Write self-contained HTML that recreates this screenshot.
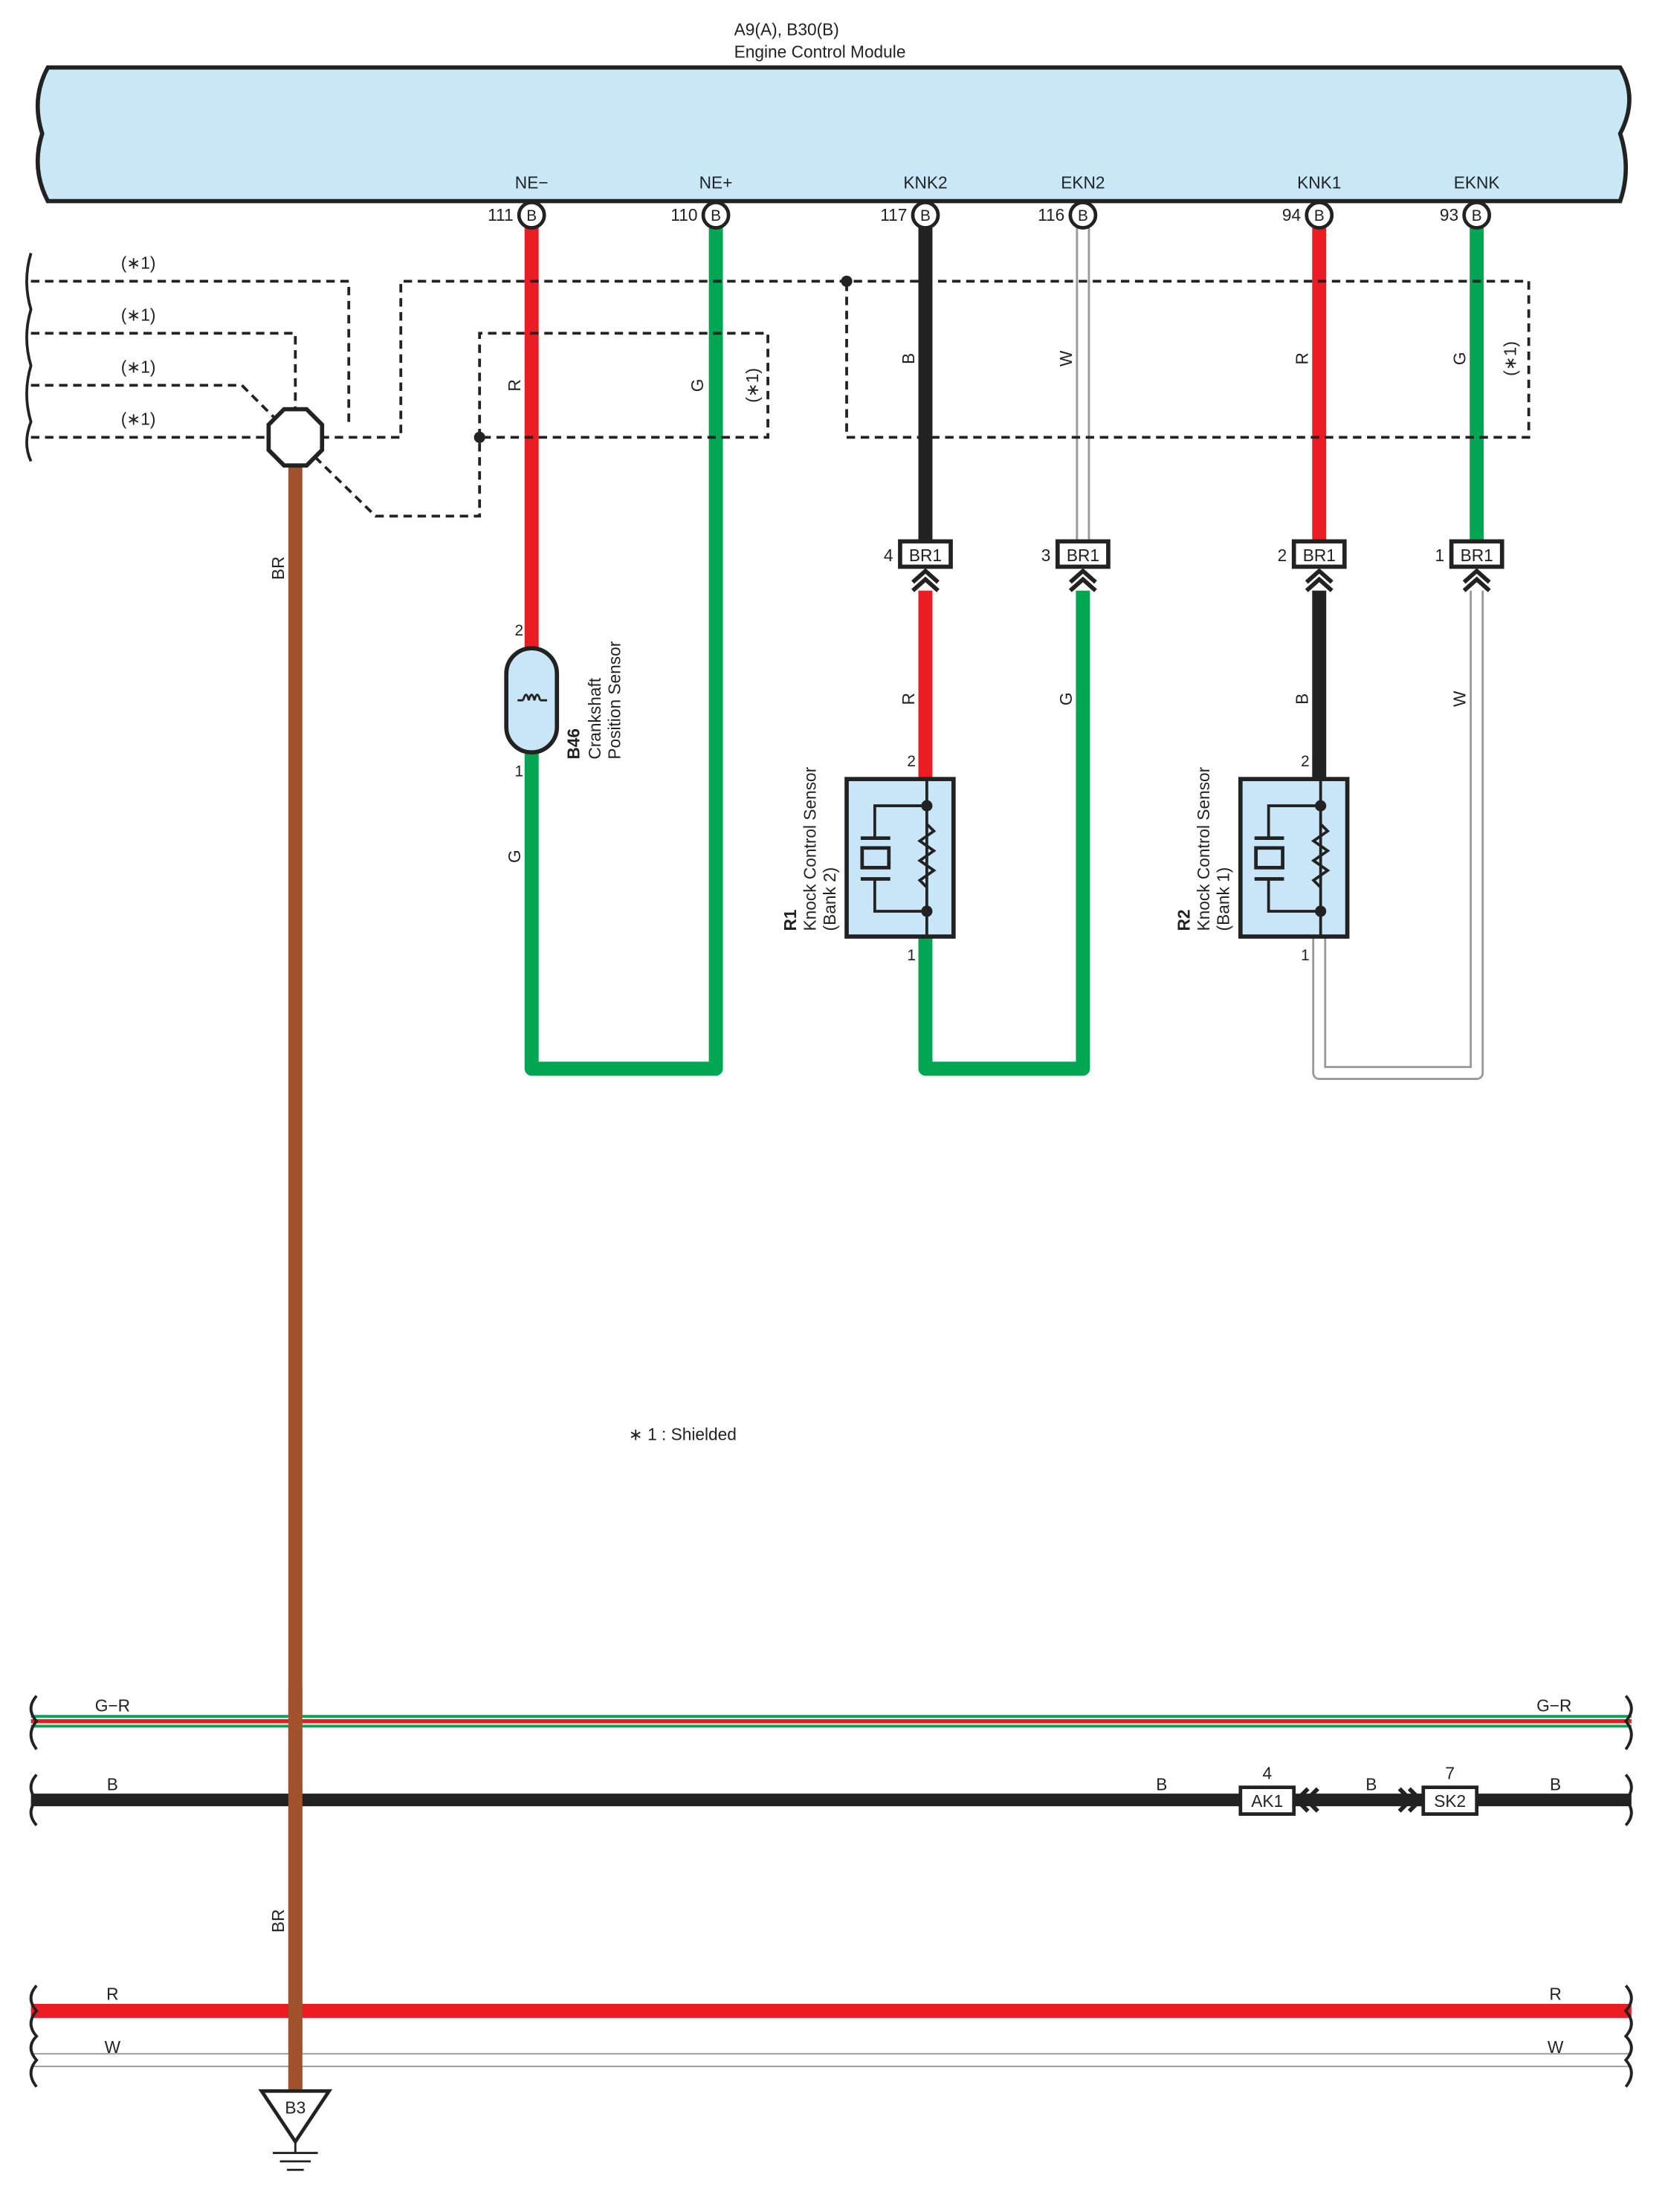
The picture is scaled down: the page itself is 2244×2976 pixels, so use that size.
<!DOCTYPE html>
<html><head><meta charset="utf-8"><style>
html,body{margin:0;padding:0;background:#fff}
svg{display:block}
text{font-family:"Liberation Sans",sans-serif;fill:#222}
</style></head><body>
<svg width="2244" height="2976" viewBox="0 0 1186 1573" preserveAspectRatio="none" xmlns="http://www.w3.org/2000/svg">
<defs>
<g id="ks">
<rect x="0" y="0" width="76" height="112" fill="#c8e6f7" stroke="#222" stroke-width="3"/>
<path d="M57 0 V112" stroke="#222" stroke-width="2" fill="none"/>
<path d="M57 19 H20 V42 M20 71 V94 H57" stroke="#222" stroke-width="2" fill="none"/>
<path d="M10 42 H31 M10 71 H31" stroke="#222" stroke-width="2.5"/>
<rect x="11" y="49" width="19" height="14" fill="none" stroke="#222" stroke-width="2.5"/>
<circle cx="57" cy="19" r="4" fill="#222"/><circle cx="57" cy="94" r="4" fill="#222"/>
<path d="M57 32 L62 37 L52 44 L62 51 L52 58 L62 65 L52 72 L57 77" stroke="#222" stroke-width="2" fill="none"/>
</g>
<g id="chev"><path d="M-9 8 L0 0 L9 8 M-9 14 L0 6 L9 14" stroke="#222" stroke-width="3" fill="none"/></g>
</defs>

<text x="522" y="25" font-size="12">A9(A), B30(B)</text>
<text x="522" y="41" font-size="12">Engine Control Module</text>
<path d="M34 48 H1152 Q1165 70 1152 95 Q1160 120 1152 143 H34 Q22 120 30 95 Q22 70 34 48 Z" fill="#c8e8f8" stroke="#222" stroke-width="3"/>

<!-- wires top -->
<g fill="none" stroke-linejoin="round">
<path d="M378 162 V462" stroke="#ec1c24" stroke-width="10"/>
<path d="M378 535 V760 H509 V162" stroke="#00a651" stroke-width="10"/>
<path d="M658 162 V385" stroke="#222" stroke-width="10"/>
<path d="M658 420 V555" stroke="#ec1c24" stroke-width="10"/>
<path d="M658 665 V760 H770 V420" stroke="#00a651" stroke-width="10"/>
<path d="M770 162 V385" stroke="#999" stroke-width="10"/><path d="M770 162 V385" stroke="#fff" stroke-width="7"/>
<path d="M938 162 V385" stroke="#ec1c24" stroke-width="10"/>
<path d="M938 420 V555" stroke="#222" stroke-width="10"/>
<path d="M938 665 V763 H1050 V420" stroke="#999" stroke-width="10"/><path d="M938 665 V763 H1050 V420" stroke="#fff" stroke-width="7"/>
<path d="M1050 162 V385" stroke="#00a651" stroke-width="10"/>
</g>

<!-- pins -->
<g font-size="12" text-anchor="middle">
<text x="378" y="134">NE−</text><text x="509" y="134">NE+</text><text x="658" y="134">KNK2</text><text x="770" y="134">EKN2</text><text x="938" y="134">KNK1</text><text x="1050" y="134">EKNK</text>
</g>
<g font-size="12" text-anchor="end">
<text x="365" y="157">111</text><text x="496" y="157">110</text><text x="645" y="157">117</text><text x="757" y="157">116</text><text x="925" y="157">94</text><text x="1037" y="157">93</text>
</g>
<g fill="#fff" stroke="#222" stroke-width="2.5">
<circle cx="378" cy="153" r="9"/><circle cx="509" cy="153" r="9"/><circle cx="658" cy="153" r="9"/><circle cx="770" cy="153" r="9"/><circle cx="938" cy="153" r="9"/><circle cx="1050" cy="153" r="9"/>
</g>
<g font-size="11" text-anchor="middle">
<text x="378" y="157">B</text><text x="509" y="157">B</text><text x="658" y="157">B</text><text x="770" y="157">B</text><text x="938" y="157">B</text><text x="1050" y="157">B</text>
</g>

<!-- shields -->
<g fill="none" stroke="#222" stroke-width="2" stroke-dasharray="6,4">
<path d="M22 200 H248 V300"/><path d="M22 237 H210 V292"/><path d="M22 274 H172 L196 298"/><path d="M22 311 H192"/>
<path d="M228 311 H285 V200 H1087 V311 H602 V200"/>
<path d="M341 311 V237 H546 V311 H341"/>
<path d="M224 325 L267 367 H341 V311"/>
</g>
<circle cx="602" cy="200" r="4" fill="#222"/><circle cx="341" cy="311" r="4" fill="#222"/>
<g font-size="12"><text x="86" y="191">(∗1)</text><text x="86" y="228">(∗1)</text><text x="86" y="265">(∗1)</text><text x="86" y="302">(∗1)</text></g>
<g font-size="12"><text transform="translate(539,274) rotate(-90)" text-anchor="middle">(∗1)</text><text transform="translate(1078,255) rotate(-90)" text-anchor="middle">(∗1)</text></g>
<!-- wavy left edge -->
<path d="M22 180 Q16 200 22 220 Q16 240 22 260 Q16 280 22 300 Q16 315 22 328" fill="none" stroke="#222" stroke-width="2"/>

<!-- brown wire -->
<path d="M210 330 V1488" stroke="#a0522d" stroke-width="10"/>
<polygon points="202,291 218,291 229,302 229,320 218,331 202,331 191,320 191,302" fill="#fff" stroke="#222" stroke-width="3"/>

<!-- wire labels -->
<g font-size="12" text-anchor="middle">
<text transform="translate(370,274) rotate(-90)">R</text>
<text transform="translate(500,274) rotate(-90)">G</text>
<text transform="translate(650,255) rotate(-90)">B</text>
<text transform="translate(762,255) rotate(-90)">W</text>
<text transform="translate(930,255) rotate(-90)">R</text>
<text transform="translate(1042,255) rotate(-90)">G</text>
<text transform="translate(650,497) rotate(-90)">R</text>
<text transform="translate(762,497) rotate(-90)">G</text>
<text transform="translate(930,497) rotate(-90)">B</text>
<text transform="translate(1042,497) rotate(-90)">W</text>
<text transform="translate(370,609) rotate(-90)">G</text>
<text transform="translate(202,404) rotate(-90)">BR</text>
<text transform="translate(202,1366) rotate(-90)">BR</text>
</g>

<!-- BR1 connectors -->
<g>
<rect x="640" y="385" width="36" height="18" fill="#fff" stroke="#222" stroke-width="3"/>
<rect x="752" y="385" width="36" height="18" fill="#fff" stroke="#222" stroke-width="3"/>
<rect x="920" y="385" width="36" height="18" fill="#fff" stroke="#222" stroke-width="3"/>
<rect x="1032" y="385" width="36" height="18" fill="#fff" stroke="#222" stroke-width="3"/>
</g>
<g font-size="12" text-anchor="middle"><text x="658" y="399">BR1</text><text x="770" y="399">BR1</text><text x="938" y="399">BR1</text><text x="1050" y="399">BR1</text></g>
<g font-size="12" text-anchor="end"><text x="635" y="399">4</text><text x="747" y="399">3</text><text x="915" y="399">2</text><text x="1027" y="399">1</text></g>
<use href="#chev" x="658" y="406"/><use href="#chev" x="770" y="406"/><use href="#chev" x="938" y="406"/><use href="#chev" x="1050" y="406"/>

<!-- crankshaft sensor -->
<rect x="360" y="461" width="36" height="74" rx="18" fill="#c8e6f7" stroke="#222" stroke-width="3"/>
<path d="M368 498 H372 M384 498 H389" stroke="#222" stroke-width="1.5"/>
<path d="M372 498 q2 -8 4 0 q2 -8 4 0 q2 -8 4 0" fill="none" stroke="#222" stroke-width="1.5"/>
<text x="366" y="452" font-size="11">2</text><text x="366" y="552" font-size="11">1</text>
<g font-size="12"><text transform="translate(412,540) rotate(-90)" font-weight="bold">B46</text><text transform="translate(427,540) rotate(-90)">Crankshaft</text><text transform="translate(441,540) rotate(-90)">Position Sensor</text></g>

<!-- knock sensors -->
<use href="#ks" x="602" y="554"/><use href="#ks" x="882" y="554"/>
<g font-size="11"><text x="645" y="545">2</text><text x="645" y="683">1</text><text x="925" y="545">2</text><text x="925" y="683">1</text></g>
<g font-size="12"><text transform="translate(566,662) rotate(-90)" font-weight="bold">R1</text><text transform="translate(580,662) rotate(-90)">Knock Control Sensor</text><text transform="translate(594,662) rotate(-90)">(Bank 2)</text>
<text transform="translate(846,662) rotate(-90)" font-weight="bold">R2</text><text transform="translate(860,662) rotate(-90)">Knock Control Sensor</text><text transform="translate(874,662) rotate(-90)">(Bank 1)</text></g>

<text x="447" y="1024" font-size="12">∗ 1 : Shielded</text>

<!-- bus lines -->
<path d="M22 1224 H1160" stroke="#00a651" stroke-width="9"/>
<path d="M22 1224 H1160" stroke="#fff" stroke-width="5"/>
<path d="M22 1224 H1160" stroke="#ec1c24" stroke-width="3"/>
<path d="M22 1280 H885 M915 1280 H1015 M1045 1280 H1160" stroke="#222" stroke-width="9"/>
<path d="M22 1430 H1160" stroke="#ec1c24" stroke-width="10"/>
<path d="M22 1465 H1160" stroke="#999" stroke-width="10"/><path d="M22 1465 H1160" stroke="#fff" stroke-width="8"/>
<path d="M210 1200 V1488" stroke="#a0522d" stroke-width="10"/>
<g fill="none" stroke="#222" stroke-width="2">
<path d="M26 1206 Q18 1215 26 1224 Q18 1233 26 1244"/><path d="M1156 1206 Q1164 1215 1156 1224 Q1164 1233 1156 1244"/>
<path d="M26 1262 Q18 1271 26 1280 Q18 1289 26 1298"/><path d="M1156 1262 Q1164 1271 1156 1280 Q1164 1289 1156 1298"/>
<path d="M26 1412 Q18 1421 26 1430 Q18 1439 26 1448 Q18 1456 26 1465 Q18 1474 26 1484"/>
<path d="M1156 1412 Q1164 1421 1156 1430 Q1164 1439 1156 1448 Q1164 1456 1156 1465 Q1164 1474 1156 1484"/>
</g>
<g font-size="12" text-anchor="middle">
<text x="80" y="1217">G−R</text><text x="1105" y="1217">G−R</text>
<text x="80" y="1273">B</text><text x="826" y="1273">B</text><text x="975" y="1273">B</text><text x="1106" y="1273">B</text>
<text x="80" y="1422">R</text><text x="1106" y="1422">R</text>
<text x="80" y="1460">W</text><text x="1106" y="1460">W</text>
<text x="901" y="1265">4</text><text x="1031" y="1265">7</text>
</g>
<rect x="882" y="1271" width="38" height="19" fill="#fff" stroke="#222" stroke-width="2.5"/>
<rect x="1012" y="1271" width="38" height="19" fill="#fff" stroke="#222" stroke-width="2.5"/>
<g font-size="12" text-anchor="middle"><text x="901" y="1285">AK1</text><text x="1031" y="1285">SK2</text></g>
<path d="M930 1272 L922 1280 L930 1288 M937 1272 L929 1280 L937 1288" fill="none" stroke="#222" stroke-width="3"/>
<path d="M995 1272 L1003 1280 L995 1288 M1002 1272 L1010 1280 L1002 1288" fill="none" stroke="#222" stroke-width="3"/>

<!-- ground -->
<polygon points="186,1487 234,1487 210,1523" fill="#fff" stroke="#222" stroke-width="2.5"/>
<text x="210" y="1503" font-size="12" text-anchor="middle">B3</text>
<path d="M210 1523 V1531 M194 1531 H226 M199 1537 H221 M204 1543 H216" stroke="#222" stroke-width="1.5"/>
</svg>
</body></html>
